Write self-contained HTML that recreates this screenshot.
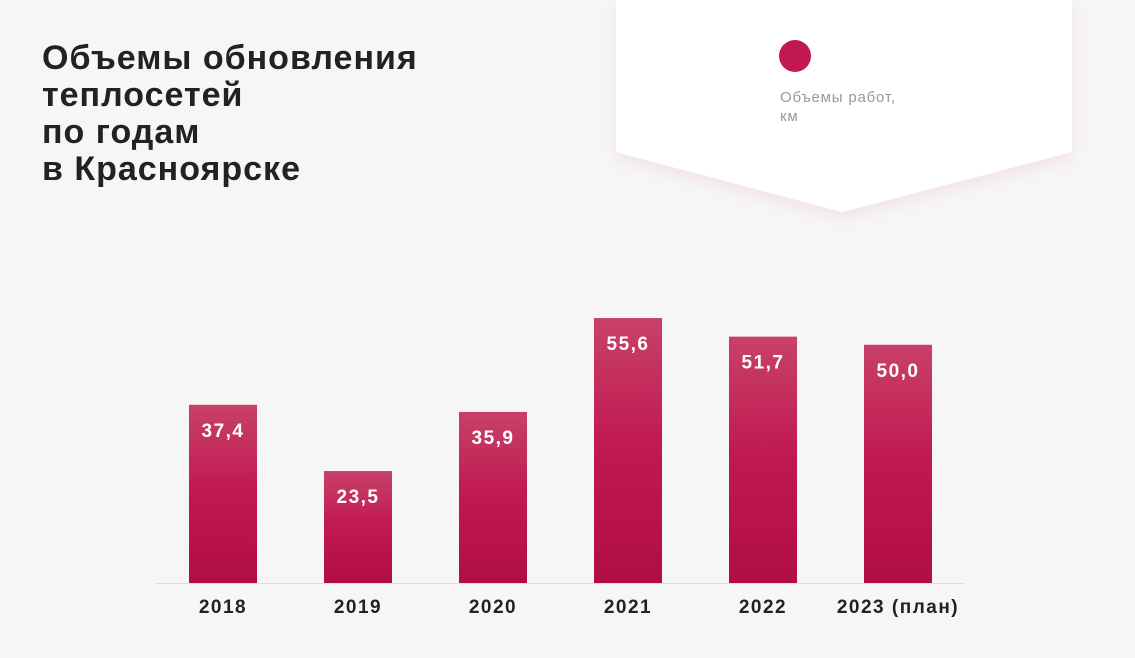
<!DOCTYPE html>
<html><head><meta charset="utf-8"><style>
body{margin:0;width:1135px;height:658px;background:#f6f6f6;font-family:"Liberation Sans",sans-serif;overflow:hidden;position:relative}
.title{position:absolute;left:42px;top:40px;font-size:34px;font-weight:bold;line-height:37px;color:#222;letter-spacing:1px}
</style></head><body>
<div class="title">Объемы обновления<br>теплосетей<br>по годам<br>в Красноярске</div>
<svg width="1135" height="658" style="position:absolute;left:0;top:0">
<defs>
<linearGradient id="g" x1="0" y1="0" x2="0" y2="1"><stop offset="0" stop-color="#c8416a"/><stop offset="0.5" stop-color="#c0184f"/><stop offset="1" stop-color="#b00e45"/></linearGradient>
<filter id="sh" x="-10%" y="-10%" width="120%" height="130%"><feDropShadow dx="0" dy="6" stdDeviation="8" flood-color="#c0184f" flood-opacity="0.08"/></filter>
</defs>
<polygon points="616,0 1072,0 1072,152 842,212 616,152" fill="#fff" filter="url(#sh)"/>
<circle cx="795" cy="56" r="16" fill="#c0184f"/>
<text x="780" y="102" font-size="15" letter-spacing="0.8" fill="#999">Объемы работ,</text>
<text x="780" y="121" font-size="15" letter-spacing="0.8" fill="#999">км</text>
<line x1="155" y1="583.5" x2="965" y2="583.5" stroke="#ddd" stroke-width="1"/>
<g id="bars"></g>
</svg>
<script>
const categories=["2018","2019","2020","2021","2022","2023 (план)"];
const values=[37.4,23.5,35.9,55.6,51.7,50.0];
const labels=["37,4","23,5","35,9","55,6","51,7","50,0"];
const base=583, k=4.765, x0=189, step=135, bw=68;
const y=v=>base-v*k;
const g=document.getElementById('bars');
const NS="http://www.w3.org/2000/svg";
categories.forEach((c,i)=>{
  const x=x0+i*step;
  const r=document.createElementNS(NS,'rect');
  
  
  r.setAttribute('x',x);r.setAttribute('y',y(values[i]));r.setAttribute('width',bw);r.setAttribute('height',base-y(values[i]));r.setAttribute('fill','url(#g)');
  g.appendChild(r);
  const t=document.createElementNS(NS,'text');
  
  
  t.setAttribute('x',x+bw/2);t.setAttribute('y',y(values[i])+32);t.setAttribute('text-anchor','middle');t.setAttribute('font-size','19');t.setAttribute('font-weight','bold');t.setAttribute('letter-spacing','1.5');t.setAttribute('fill','#fff');
  t.textContent=labels[i];g.appendChild(t);
  const l=document.createElementNS(NS,'text');
  
  
  l.setAttribute('x',x+bw/2);l.setAttribute('y',613);l.setAttribute('text-anchor','middle');l.setAttribute('font-size','19');l.setAttribute('font-weight','bold');l.setAttribute('letter-spacing','1.5');l.setAttribute('fill','#222');
  l.textContent=c;g.appendChild(l);
});
</script>
</body></html>
